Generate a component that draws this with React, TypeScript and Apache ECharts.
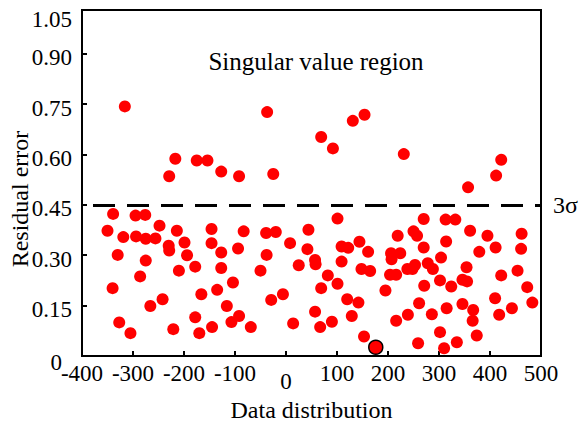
import React, { useEffect, useRef } from "react";
import * as echarts from "echarts";

const distribution: number[] = [
  -316, -229, -217, -175, -154, -127, -92, -37, -25, 69, 92, 131, 154, 231, 357, 412, 422,
  -350, -339, -319, -330, -340, -327, -305, -295, -276, -294, -275, -256, -248, -275, -286, -266,
  -242, -221, -230, -229, -214, -210, -199, -194, -178, -178, -170, -166, -146, -146, -145, -135,
  -127, -127, -116, -104, -107, -92, -94, -83, -69, -50, -39, -38, -20, -29, -6, 8, 14, 25, 44, 42,
  57, 58, 69, 57, 67, 82, 101, 109, 122, 109, 101, 120, 142, 90, 129, 144, 161, 148, 165, 153,
  195, 206, 207, 224, 219, 204, 216, 216, 239, 238, 250, 257, 253, 248, 259, 261, 270, 270, 271,
  278, 288, 286, 302, 304, 302, 310, 313, 332, 314, 315, 324, 335, 346, 346, 355, 354, 361, 367,
  366, 374, 379, 395, 411, 410, 418, 422, 443, 454, 462, 461, 473, 483,
];
const residual: number[] = [
  0.743, 0.535, 0.587, 0.582, 0.582, 0.549, 0.535, 0.726, 0.542, 0.652, 0.618, 0.7, 0.718, 0.601, 0.502, 0.537, 0.584,
  0.373, 0.423, 0.354, 0.301, 0.202, 0.1, 0.068, 0.418, 0.42, 0.356, 0.349, 0.35, 0.388, 0.284, 0.237, 0.149,
  0.169, 0.08, 0.328, 0.314, 0.373, 0.254, 0.338, 0.3, 0.266, 0.115, 0.068, 0.184, 0.378, 0.336, 0.086, 0.197,
  0.308, 0.262, 0.149, 0.219, 0.101, 0.119, 0.32, 0.371, 0.086, 0.254, 0.366, 0.301, 0.369, 0.167, 0.184, 0.336, 0.097, 0.27, 0.376, 0.318,
  0.286, 0.273, 0.202, 0.132, 0.086, 0.24, 0.409, 0.326, 0.322, 0.281, 0.215, 0.169, 0.159, 0.102, 0.119, 0.34, 0.31, 0.259, 0.253, 0.058,
  0.195, 0.306, 0.288, 0.306, 0.358, 0.242, 0.242, 0.105, 0.123, 0.259, 0.371, 0.358, 0.271, 0.259, 0.038, 0.157, 0.408, 0.323, 0.209,
  0.276, 0.259, 0.124, 0.225, 0.293, 0.071, 0.023, 0.406, 0.406, 0.341, 0.142, 0.207, 0.041, 0.155, 0.227, 0.222, 0.264, 0.373, 0.137,
  0.105, 0.061, 0.31, 0.358, 0.323, 0.172, 0.123, 0.24, 0.142, 0.254, 0.364, 0.319, 0.205, 0.159,
];
const highlightPoint: number[] = [176, 0.026];
const threshold = 0.45;
const thresholdLabel = "3σ";
const xTicks = { min: -400, max: 500, interval: 100 };
const yTicks = { min: 0, max: 1.03, interval: 0.15, topLabel: "1.05" };
const xName = "Data distribution";
const yName = "Residual error";
const regionLabel = "Singular value region";

const FONT = "Liberation Serif";

export default function App() {
  const ref = useRef<HTMLDivElement>(null);
  useEffect(() => {
    if (!ref.current) return;
    const chart = echarts.init(ref.current, undefined, { renderer: "svg" });
    const pts = distribution.map((x, i) => [x, residual[i]]);
    chart.setOption({
      animation: false,
      backgroundColor: "#fff",
      textStyle: { fontFamily: FONT },
      grid: {
        left: 82, right: 39, top: 10, bottom: 66,
        outerBoundsMode: "none", containLabel: false,
        show: true, borderColor: "#000", borderWidth: 2, backgroundColor: "transparent",
      },
      xAxis: {
        type: "value",
        min: xTicks.min, max: xTicks.max, interval: xTicks.interval,
        name: xName, nameLocation: "middle", nameGap: 37,
        nameTextStyle: { fontFamily: FONT, fontSize: 24, color: "#000" },
        axisLine: { show: true, onZero: false, lineStyle: { color: "#000", width: 2 } },
        axisTick: { show: true, inside: true, length: 5, lineStyle: { color: "#000", width: 2 } },
        splitLine: { show: false },
        axisLabel: {
          fontFamily: FONT, fontSize: 23, color: "#000", margin: 6,
          formatter: (v: number) => (v === 0 ? "{z|0}" : "{n|" + v + "}"),
          rich: {
            n: { fontFamily: FONT, fontSize: 23, color: "#000" },
            z: { fontFamily: FONT, fontSize: 23, color: "#000", padding: [8, 0, 0, 0] },
          },
        },
      },
      yAxis: {
        type: "value",
        min: yTicks.min, max: yTicks.max, interval: yTicks.interval,
        axisLine: { show: true, onZero: false, lineStyle: { color: "#000", width: 2 } },
        axisTick: { show: true, inside: true, length: 5, lineStyle: { color: "#000", width: 2 } },
        splitLine: { show: false },
        axisLabel: {
          fontFamily: FONT, fontSize: 23, color: "#000", margin: 10,
          showMaxLabel: true,
          formatter: (v: number) => {
            if (v === 0) return "{z|0}";
            if (v > 1) return "{t|" + yTicks.topLabel + "}";
            return "{n|" + v.toFixed(2) + "}";
          },
          rich: {
            n: { fontFamily: FONT, fontSize: 23, color: "#000", padding: [8, 0, 0, 0] },
            z: { fontFamily: FONT, fontSize: 23, color: "#000", padding: [12, 10, 0, 0] },
            t: { fontFamily: FONT, fontSize: 23, color: "#000", padding: [18, 0, 0, 0] },
          },
        },
      },
      graphic: [
        {
          type: "text", x: 316, y: 61,
          style: { text: regionLabel, font: "25px " + FONT, fill: "#000", textAlign: "center", textVerticalAlign: "middle" },
        },
        {
          type: "text", x: 20, y: 199, rotation: Math.PI / 2,
          style: { text: yName, font: "24px " + FONT, fill: "#000", textAlign: "center", textVerticalAlign: "middle" },
        },
      ],
      series: [
        {
          type: "scatter",
          data: pts,
          symbol: "circle",
          symbolSize: 12,
          itemStyle: { color: "#ff0000", opacity: 1 },
          markLine: {
            silent: true,
            symbol: ["none", "none"],
            lineStyle: { color: "#000", width: 3, type: [22, 12], dashOffset: 23 },
            label: {
              show: true, position: "end", distance: 12, formatter: thresholdLabel,
              fontFamily: FONT, fontSize: 24, color: "#000", padding: [8, 0, 0, 0],
            },
            data: [{ yAxis: threshold }],
          },
        },
        {
          type: "scatter",
          data: [highlightPoint],
          symbol: "circle",
          symbolSize: 14,
          itemStyle: { color: "#ff0000", borderColor: "#000", borderWidth: 1.5, opacity: 1 },
        },
      ],
    });
    return () => chart.dispose();
  }, []);
  return <div ref={ref} style={{ position: "absolute", left: 0, top: 0, width: 580, height: 422 }} />;
}
